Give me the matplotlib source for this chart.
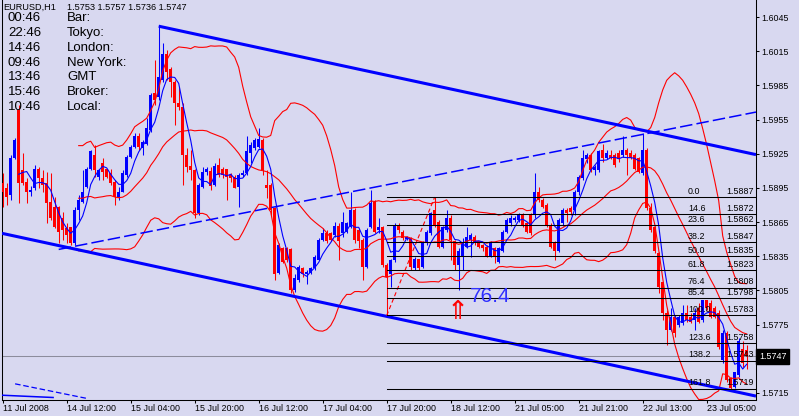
import numpy as np
import pandas as pd
import matplotlib
matplotlib.use('Agg')
import matplotlib.pyplot as plt

plt.rcParams['font.family'] = ['Liberation Sans', 'DejaVu Sans']
plt.rcParams['lines.scale_dashes'] = False

# EURUSD H1 candles, 11 Jul 2008 - 23 Jul 2008
opens = [
    1.5899, 1.5895, 1.5889, 1.5921, 1.5963, 1.5911, 1.5900, 1.5891, 1.5895, 1.5912,
    1.5904, 1.5899, 1.5883, 1.5878, 1.5878, 1.5869, 1.5860, 1.5861, 1.5847, 1.5876,
    1.5883, 1.5896, 1.5912, 1.5924, 1.5905, 1.5917, 1.5912, 1.5908, 1.5900, 1.5886,
    1.5891, 1.5906, 1.5922, 1.5931, 1.5941, 1.5930, 1.5934, 1.5946, 1.5978, 1.5975,
    1.5990, 1.6013, 1.5999, 1.5988, 1.5970, 1.5966, 1.5924, 1.5914, 1.5911, 1.5873,
    1.5896, 1.5909, 1.5910, 1.5898, 1.5915, 1.5912, 1.5912, 1.5906, 1.5905, 1.5896,
    1.5906, 1.5908, 1.5926, 1.5930, 1.5931, 1.5937, 1.5898, 1.5898, 1.5877, 1.5820,
    1.5842, 1.5842, 1.5841, 1.5805, 1.5814, 1.5825, 1.5819, 1.5820, 1.5825, 1.5832,
    1.5849, 1.5855, 1.5855, 1.5854, 1.5862, 1.5855, 1.5856, 1.5861, 1.5876, 1.5858,
    1.5849, 1.5826, 1.5861, 1.5883, 1.5858, 1.5861, 1.5827, 1.5819, 1.5832, 1.5862,
    1.5856, 1.5850, 1.5851, 1.5825, 1.5833, 1.5826, 1.5847, 1.5855, 1.5876, 1.5865,
    1.5843, 1.5858, 1.5869, 1.5848, 1.5827, 1.5834, 1.5843, 1.5849, 1.5852, 1.5847,
    1.5845, 1.5843, 1.5834, 1.5842, 1.5830, 1.5840, 1.5856, 1.5864, 1.5867, 1.5867,
    1.5871, 1.5864, 1.5871, 1.5871, 1.5891, 1.5884, 1.5880, 1.5862, 1.5847, 1.5840,
    1.5864, 1.5876, 1.5877, 1.5876, 1.5891, 1.5904, 1.5920, 1.5924, 1.5911, 1.5911,
    1.5928, 1.5921, 1.5924, 1.5924, 1.5926, 1.5924, 1.5928, 1.5926, 1.5924, 1.5921,
    1.5908, 1.5928, 1.5877, 1.5861, 1.5838, 1.5812, 1.5785, 1.5770, 1.5782, 1.5775,
    1.5776, 1.5785, 1.5782, 1.5779, 1.5790, 1.5779, 1.5797, 1.5794, 1.5790, 1.5785,
    1.5744, 1.5768, 1.5728, 1.5720, 1.5731, 1.5754, 1.5753,
]
highs = [
    1.5908, 1.5899, 1.5924, 1.5939, 1.5968, 1.5926, 1.5904, 1.5897, 1.5915, 1.5913,
    1.5911, 1.5909, 1.5908, 1.5887, 1.5879, 1.5874, 1.5864, 1.5861, 1.5878, 1.5889,
    1.5911, 1.5913, 1.5928, 1.5933, 1.5912, 1.5921, 1.5912, 1.5912, 1.5902, 1.5896,
    1.5911, 1.5924, 1.5933, 1.5943, 1.5943, 1.5937, 1.5956, 1.5978, 1.6007, 1.6037,
    1.6022, 1.6016, 1.6001, 1.5990, 1.5984, 1.5970, 1.5930, 1.5928, 1.5912, 1.5899,
    1.5913, 1.5913, 1.5913, 1.5917, 1.5921, 1.5913, 1.5912, 1.5908, 1.5906, 1.5908,
    1.5911, 1.5941, 1.5935, 1.5939, 1.5948, 1.5939, 1.5911, 1.5899, 1.5878, 1.5847,
    1.5843, 1.5843, 1.5842, 1.5819, 1.5827, 1.5826, 1.5823, 1.5826, 1.5836, 1.5851,
    1.5860, 1.5858, 1.5856, 1.5865, 1.5864, 1.5874, 1.5865, 1.5891, 1.5877, 1.5860,
    1.5851, 1.5860, 1.5893, 1.5884, 1.5869, 1.5862, 1.5829, 1.5833, 1.5864, 1.5864,
    1.5858, 1.5853, 1.5852, 1.5834, 1.5833, 1.5848, 1.5858, 1.5874, 1.5887, 1.5867,
    1.5862, 1.5876, 1.5871, 1.5849, 1.5842, 1.5851, 1.5861, 1.5855, 1.5854, 1.5848,
    1.5846, 1.5845, 1.5848, 1.5843, 1.5843, 1.5858, 1.5869, 1.5871, 1.5870, 1.5873,
    1.5873, 1.5865, 1.5873, 1.5908, 1.5896, 1.5886, 1.5882, 1.5864, 1.5848, 1.5869,
    1.5877, 1.5877, 1.5879, 1.5893, 1.5906, 1.5928, 1.5926, 1.5926, 1.5915, 1.5928,
    1.5934, 1.5928, 1.5928, 1.5926, 1.5928, 1.5941, 1.5930, 1.5928, 1.5926, 1.5922,
    1.5943, 1.5930, 1.5882, 1.5862, 1.5839, 1.5812, 1.5788, 1.5790, 1.5783, 1.5783,
    1.5792, 1.5792, 1.5785, 1.5790, 1.5794, 1.5797, 1.5797, 1.5797, 1.5791, 1.5788,
    1.5770, 1.5769, 1.5729, 1.5733, 1.5763, 1.5761, 1.5757,
]
lows = [
    1.5878, 1.5880, 1.5884, 1.5920, 1.5882, 1.5898, 1.5882, 1.5888, 1.5893, 1.5895,
    1.5891, 1.5864, 1.5867, 1.5860, 1.5847, 1.5849, 1.5847, 1.5845, 1.5845, 1.5867,
    1.5882, 1.5895, 1.5911, 1.5905, 1.5902, 1.5902, 1.5904, 1.5898, 1.5880, 1.5884,
    1.5891, 1.5905, 1.5921, 1.5930, 1.5928, 1.5924, 1.5933, 1.5944, 1.5968, 1.5972,
    1.5988, 1.5990, 1.5975, 1.5950, 1.5963, 1.5898, 1.5909, 1.5902, 1.5869, 1.5871,
    1.5895, 1.5906, 1.5893, 1.5897, 1.5905, 1.5904, 1.5884, 1.5900, 1.5895, 1.5878,
    1.5905, 1.5906, 1.5917, 1.5928, 1.5930, 1.5906, 1.5886, 1.5871, 1.5814, 1.5819,
    1.5829, 1.5830, 1.5803, 1.5804, 1.5812, 1.5817, 1.5811, 1.5819, 1.5823, 1.5832,
    1.5848, 1.5847, 1.5848, 1.5852, 1.5832, 1.5852, 1.5855, 1.5860, 1.5847, 1.5842,
    1.5814, 1.5825, 1.5860, 1.5855, 1.5855, 1.5826, 1.5783, 1.5808, 1.5830, 1.5855,
    1.5849, 1.5849, 1.5823, 1.5823, 1.5823, 1.5825, 1.5845, 1.5854, 1.5861, 1.5842,
    1.5842, 1.5856, 1.5832, 1.5823, 1.5805, 1.5823, 1.5842, 1.5834, 1.5845, 1.5842,
    1.5840, 1.5834, 1.5834, 1.5829, 1.5829, 1.5839, 1.5855, 1.5862, 1.5865, 1.5865,
    1.5861, 1.5855, 1.5854, 1.5869, 1.5883, 1.5877, 1.5861, 1.5842, 1.5832, 1.5839,
    1.5862, 1.5865, 1.5871, 1.5871, 1.5889, 1.5902, 1.5917, 1.5909, 1.5906, 1.5909,
    1.5918, 1.5920, 1.5920, 1.5913, 1.5918, 1.5922, 1.5906, 1.5920, 1.5911, 1.5908,
    1.5906, 1.5876, 1.5856, 1.5838, 1.5803, 1.5779, 1.5757, 1.5769, 1.5764, 1.5773,
    1.5775, 1.5777, 1.5776, 1.5770, 1.5776, 1.5777, 1.5788, 1.5781, 1.5781, 1.5754,
    1.5741, 1.5725, 1.5718, 1.5719, 1.5729, 1.5738, 1.5736,
]
closes = [
    1.5891, 1.5887, 1.5921, 1.5937, 1.5899, 1.5899, 1.5891, 1.5893, 1.5912, 1.5904,
    1.5898, 1.5882, 1.5869, 1.5861, 1.5856, 1.5858, 1.5854, 1.5847, 1.5876, 1.5884,
    1.5891, 1.5912, 1.5927, 1.5911, 1.5911, 1.5909, 1.5905, 1.5899, 1.5887, 1.5891,
    1.5908, 1.5922, 1.5931, 1.5941, 1.5931, 1.5935, 1.5948, 1.5977, 1.5972, 1.5992,
    1.6013, 1.5997, 1.5988, 1.5970, 1.5966, 1.5924, 1.5913, 1.5911, 1.5873, 1.5898,
    1.5909, 1.5912, 1.5897, 1.5914, 1.5906, 1.5906, 1.5905, 1.5904, 1.5895, 1.5906,
    1.5908, 1.5927, 1.5933, 1.5937, 1.5938, 1.5911, 1.5895, 1.5876, 1.5819, 1.5845,
    1.5830, 1.5832, 1.5805, 1.5816, 1.5826, 1.5819, 1.5821, 1.5825, 1.5834, 1.5849,
    1.5855, 1.5848, 1.5849, 1.5862, 1.5848, 1.5865, 1.5864, 1.5876, 1.5849, 1.5848,
    1.5826, 1.5858, 1.5882, 1.5856, 1.5861, 1.5827, 1.5817, 1.5832, 1.5862, 1.5858,
    1.5851, 1.5852, 1.5826, 1.5833, 1.5825, 1.5847, 1.5856, 1.5873, 1.5862, 1.5843,
    1.5861, 1.5869, 1.5849, 1.5827, 1.5840, 1.5847, 1.5852, 1.5854, 1.5847, 1.5843,
    1.5842, 1.5834, 1.5847, 1.5834, 1.5842, 1.5856, 1.5867, 1.5869, 1.5869, 1.5871,
    1.5862, 1.5856, 1.5855, 1.5891, 1.5884, 1.5878, 1.5862, 1.5843, 1.5840, 1.5867,
    1.5876, 1.5873, 1.5874, 1.5891, 1.5905, 1.5921, 1.5924, 1.5911, 1.5913, 1.5927,
    1.5921, 1.5926, 1.5921, 1.5915, 1.5920, 1.5928, 1.5924, 1.5921, 1.5912, 1.5909,
    1.5928, 1.5877, 1.5858, 1.5840, 1.5808, 1.5785, 1.5770, 1.5782, 1.5768, 1.5782,
    1.5785, 1.5779, 1.5777, 1.5785, 1.5777, 1.5797, 1.5790, 1.5782, 1.5782, 1.5755,
    1.5768, 1.5726, 1.5719, 1.5733, 1.5761, 1.5741, 1.5747,
]

time_labels = ['11 Jul 2008', '14 Jul 12:00', '15 Jul 04:00', '15 Jul 20:00',
               '16 Jul 12:00', '17 Jul 04:00', '17 Jul 20:00', '18 Jul 12:00',
               '21 Jul 05:00', '21 Jul 21:00', '22 Jul 13:00', '23 Jul 05:00']
price_labels = [1.6045, 1.6015, 1.5985, 1.5955, 1.5925, 1.5895,
                1.5865, 1.5835, 1.5805, 1.5775, 1.5745, 1.5715]

# drawn objects: (bar, price) anchors
chan_bars = [39, 186]
chan_upper = [1.6037, 1.5926]
chan_lower_bars = [0, 186]
chan_lower = [1.5855, 1.5714]
dash_bars = [14, 186]
dash_prices = [1.5841, 1.5960]
old_dash_bars = [3.1, 21.3]
old_dash_prices = [1.5723, 1.5710]
old_line_bars = [-0.2, 12.6]
old_line_prices = [1.5713, 1.5711]
fib_anchor_bars = [96, 108]
fib_levels = [0.0, 14.6, 23.6, 38.2, 50.0, 61.8, 76.4, 85.4, 100.0, 123.6, 138.2, 161.8]

clock_times = ['00:46', '22:46', '14:46', '09:46', '13:46', '15:46', '10:46']
clock_names = ['Bar:', 'Tokyo:', 'London:', 'New York:', 'GMT', 'Broker:', 'Local:']

bg = '#d8d8f0'
blue = '#0000ff'
red = '#ff0000'

o = np.array(opens)
h = np.array(highs)
l = np.array(lows)
c = np.array(closes)
x = np.arange(len(c))

# indicators
s = pd.Series(c)
ma = s.rolling(5).mean()
bb_mid = s.rolling(20).mean()
bb_std = s.rolling(20).std(ddof=0)
bb_up = bb_mid + 2 * bb_std
bb_dn = bb_mid - 2 * bb_std

W, H = 799, 416
fig = plt.figure(figsize=(W / 100, H / 100), dpi=100)
fig.patch.set_facecolor(bg)
ax = fig.add_axes([2 / W, 16.5 / H, 754 / W, 399.5 / H])
ax.set_facecolor(bg)

y_top = 1.6060
y_bot = y_top - 0.0000878 * 399.5
x_left = (2 - 2.7) / 4
x_right = (756 - 2.7) / 4
ax.set_xlim(x_left, x_right)
ax.set_ylim(y_bot, y_top)

# candles
cols = np.where(c >= o, blue, red)
ax.vlines(x, l, h, colors=cols, lw=0.75, zorder=3)
body_lo = np.minimum(o, c)
body_h = np.maximum(np.abs(c - o), 0.00008)
ax.bar(x, body_h, bottom=body_lo, width=0.75, color=cols, linewidth=0, zorder=3)

# indicators
ax.plot(x, bb_up, color=red, lw=0.8, zorder=4)
ax.plot(x, bb_mid, color=red, lw=0.8, zorder=4)
ax.plot(x, bb_dn, color=red, lw=0.8, zorder=4)
ax.plot(x, ma, color=blue, lw=0.8, zorder=4)

# channel
def extend(bx, py, x0, x1):
    k = (py[1] - py[0]) / (bx[1] - bx[0])
    return [x0, x1], [py[0] + k * (x0 - bx[0]), py[0] + k * (x1 - bx[0])]

xs, ys = extend(chan_bars, chan_upper, chan_bars[0], x_right)
ax.plot(xs, ys, color=blue, lw=2.2, zorder=5, solid_capstyle='butt')
xs, ys = extend(chan_lower_bars, chan_lower, x_left, x_right)
ax.plot(xs, ys, color=blue, lw=2.2, zorder=5, solid_capstyle='butt')
xs, ys = extend(dash_bars, dash_prices, dash_bars[0], x_right)
ax.plot(xs, ys, color=blue, lw=1.1, zorder=5, dashes=(9, 3))
ax.plot(old_dash_bars, old_dash_prices, color=blue, lw=0.9, zorder=5, dashes=(4, 2))
ax.plot(old_line_bars, old_line_prices, color=blue, lw=1.1, zorder=5)

# fibonacci retracement
fib_low = l[fib_anchor_bars[0]]
fib_high = h[fib_anchor_bars[1]]
ax.plot(fib_anchor_bars, [fib_low, fib_high], color=red, lw=0.8, dashes=(3, 2), zorder=5)
for lv in fib_levels:
    p = fib_high - lv / 100 * (fib_high - fib_low)
    ax.plot([fib_anchor_bars[0], x_right], [p, p], color='black', lw=0.75, zorder=5)
    ax.annotate(f'{lv:.1f}', xy=(171.3, p), xytext=(0, 1), textcoords='offset points',
                fontsize=6.4, ha='left', va='bottom', zorder=6)
    ax.annotate(f'{p:.4f}', xy=(180.8, p), xytext=(0, 1), textcoords='offset points',
                fontsize=6.4, ha='left', va='bottom', zorder=6)

ax.text(116.8, 1.5800, '76.4', fontsize=15, color='#3030ff', va='center', ha='left', zorder=6)
ax.text(113.8, 1.5786, '\u21d1', fontsize=19, color=red, va='center', ha='center',
        family='DejaVu Sans', zorder=6)

# current price
ax.axhline(c[-1], color='#8c8c9c', lw=0.75, zorder=2)
ax.annotate(f'{c[-1]:.4f}', xy=(1, c[-1]), xycoords=('axes fraction', 'data'),
            xytext=(2.2, 0), textcoords='offset points', fontsize=6.4, color='white',
            va='center', ha='left', zorder=10, annotation_clip=False,
            bbox=dict(boxstyle='square,pad=0.3', fc='black', ec='black'))

# axes
for side in ['left', 'right', 'bottom']:
    ax.spines[side].set_color('black')
    ax.spines[side].set_linewidth(0.75)
ax.spines['top'].set_visible(False)
ax.yaxis.tick_right()
ax.set_yticks(price_labels)
# the label under the current-price box is hidden, as in the terminal
ax.set_yticklabels(['' if abs(p - c[-1]) < 0.0008 else f'{p:.4f}' for p in price_labels])
ax.set_xticks(np.arange(0, len(c), 16)[:len(time_labels)])
ax.set_xticklabels(time_labels, ha='left')
ax.tick_params(axis='y', direction='out', length=2.2, width=0.75, pad=1.4, labelsize=6.4)
ax.tick_params(axis='x', direction='out', length=2.5, width=0.75, pad=0.8, labelsize=6.4)

# header and clock
fig.text(3 / W, 1 - 7 / H, 'EURUSD,H1', fontsize=6.6, va='center', ha='left')
fig.text(67 / W, 1 - 7 / H, f'{o[-1]:.4f} {h[-1]:.4f} {l[-1]:.4f} {c[-1]:.4f}',
         fontsize=6.6, va='center', ha='left')
for k, (t, n) in enumerate(zip(clock_times, clock_names)):
    yy = 1 - (18.3 + 14.8 * k) / H
    fig.text(8 / W, yy, t, fontsize=9.5, va='center', ha='left')
    fig.text(67 / W, yy, n, fontsize=9.5, va='center', ha='left')

fig.savefig('out.png', dpi=100, facecolor=bg)
